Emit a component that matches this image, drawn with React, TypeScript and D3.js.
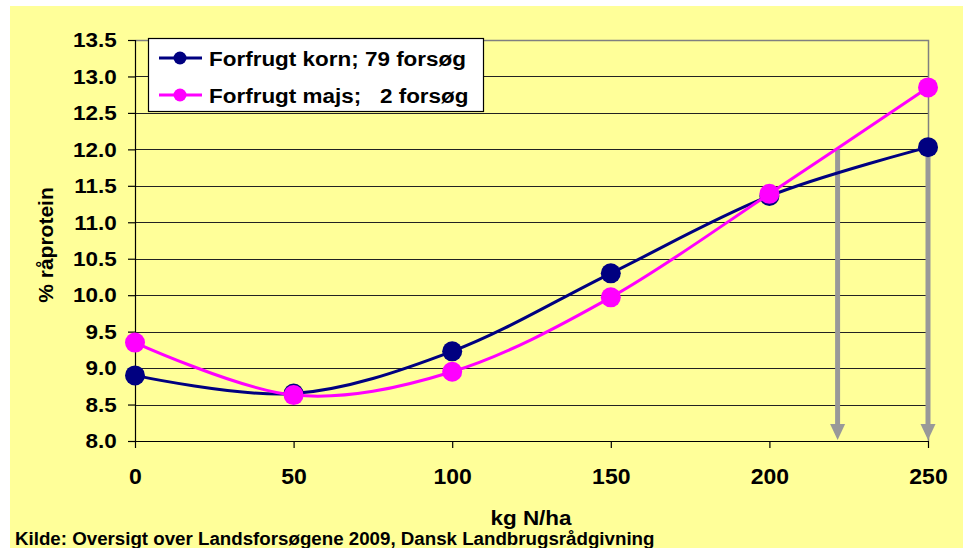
import { useEffect, useRef } from 'react';
import * as d3 from 'd3';

// x values (kg N/ha)
const nLevels = [0, 50, 100, 150, 200, 250];
// % raprotein per series
const kornValues = [8.9, 8.65, 9.23, 10.3, 11.36, 12.03];
const majsValues = [9.35, 8.63, 8.95, 9.97, 11.39, 12.85];

const seriesNames = ['Forfrugt korn; 79 forsøg', 'Forfrugt majs;   2 forsøg'];
const seriesColors = ['#000080', '#FF00FF'];

const yTicks = [8.0, 8.5, 9.0, 9.5, 10.0, 10.5, 11.0, 11.5, 12.0, 12.5, 13.0, 13.5];
const xTicks = [0, 50, 100, 150, 200, 250];

// grey arrows: x position, from value, to value
const arrowX = [221.5, 250];
const arrowFrom = 12.0;
const arrowTo = 8.0;

const App = () => {
    const svgRef = useRef<SVGSVGElement>(null);

    useEffect(() => {
        const W = 963;
        const H = 548;
        const plot = { left: 135, right: 928, top: 40, bottom: 441 };
        const font = 'Arial, "Liberation Sans", sans-serif';
        const stretch = 1.07; // the original text is a bit wide

        const svg = d3.select(svgRef.current);
        svg.selectAll('*').remove();
        svg.attr('width', W).attr('height', H);

        // draws bold text, stretched horizontally
        const label = (px: number, py: number, size: number, txt: string, anchor = 'start') =>
            svg.append('text')
                .attr('transform', `translate(${px},${py}) scale(${stretch},1)`)
                .attr('text-anchor', anchor)
                .style('font-family', font)
                .style('font-size', `${size}px`)
                .style('font-weight', 'bold')
                .style('white-space', 'pre')
                .attr('fill', '#000')
                .text(txt);

        // background
        svg.append('rect').attr('width', W).attr('height', H).attr('fill', '#ffffff');
        svg.append('rect')
            .attr('x', 10).attr('y', 6)
            .attr('width', W - 10).attr('height', H - 6)
            .attr('fill', '#FFFF99');

        const x = d3.scaleLinear().domain([0, 250]).range([plot.left, plot.right]);
        const y = d3.scaleLinear().domain([8, 13.5]).range([plot.bottom, plot.top]);

        // gridlines
        svg.append('g')
            .selectAll('line')
            .data(yTicks.filter(d => d > 8 && d < 13.5))
            .enter().append('line')
            .attr('x1', plot.left).attr('x2', plot.right)
            .attr('y1', d => Math.round(y(d)) + 0.5).attr('y2', d => Math.round(y(d)) + 0.5)
            .attr('stroke', '#222')
            .attr('stroke-width', 1.2);

        // top / right border of plot area
        svg.append('path')
            .attr('d', `M${plot.left},${plot.top + 0.5}H${plot.right + 0.5}V${plot.bottom}`)
            .attr('fill', 'none')
            .attr('stroke', '#808080')
            .attr('stroke-width', 1.5);

        // axes
        const yAxis = svg.append('g')
            .attr('transform', `translate(${plot.left},0)`)
            .call(d3.axisLeft(y).tickValues(yTicks).tickSize(7).tickFormat(d3.format('.1f')));
        yAxis.select('.domain').attr('stroke', '#000').attr('stroke-width', 1.2);
        yAxis.selectAll('.tick line').attr('stroke', '#000').attr('stroke-width', 1.2);
        yAxis.selectAll('.tick text')
            .attr('x', -17)
            .attr('transform', `scale(${stretch},1)`)
            .style('font-family', font)
            .style('font-size', '21px')
            .style('font-weight', 'bold')
            .attr('fill', '#000');

        const xAxis = svg.append('g')
            .attr('transform', `translate(0,${plot.bottom})`)
            .call(d3.axisBottom(x).tickValues(xTicks).tickSize(7).tickSizeOuter(0));
        xAxis.select('.domain').attr('stroke', '#000').attr('stroke-width', 1.2);
        xAxis.selectAll('.tick line').attr('stroke', '#000').attr('stroke-width', 1.2);
        xAxis.selectAll('.tick text')
            .attr('y', 28)
            .attr('dy', '0.71em')
            .attr('transform', `scale(${stretch},1)`)
            .style('font-family', font)
            .style('font-size', '21.5px')
            .style('font-weight', 'bold')
            .attr('fill', '#000');

        // arrows
        const arrows = svg.append('g');
        arrowX.forEach(a => {
            const ax = x(a);
            const y0 = y(arrowFrom);
            const y1 = y(arrowTo);
            arrows.append('line')
                .attr('x1', ax).attr('x2', ax)
                .attr('y1', y0).attr('y2', y1 - 14)
                .attr('stroke', '#999999')
                .attr('stroke-width', 5);
            arrows.append('path')
                .attr('d', `M${ax - 7.5},${y1 - 17}L${ax + 7.5},${y1 - 17}L${ax},${y1 - 1}Z`)
                .attr('fill', '#999999');
        });

        // series
        const line = d3.line<number>()
            .x((d, i) => x(nLevels[i]))
            .y(d => y(d))
            .curve(d3.curveCardinal.tension(0));

        [kornValues, majsValues].forEach((vals, si) => {
            const g = svg.append('g');
            g.append('path')
                .datum(vals)
                .attr('d', line)
                .attr('fill', 'none')
                .attr('stroke', seriesColors[si])
                .attr('stroke-width', 3);
            g.selectAll('circle')
                .data(vals)
                .enter().append('circle')
                .attr('cx', (d, i) => x(nLevels[i]))
                .attr('cy', d => y(d))
                .attr('r', 10)
                .attr('fill', seriesColors[si]);
        });

        // legend
        svg.append('rect')
            .attr('x', 148.5).attr('y', 38.5)
            .attr('width', 335).attr('height', 73)
            .attr('fill', '#ffffff')
            .attr('stroke', '#000')
            .attr('stroke-width', 1.2);
        seriesNames.forEach((name, i) => {
            const ly = 58 + i * 37;
            svg.append('line')
                .attr('x1', 159).attr('x2', 202)
                .attr('y1', ly).attr('y2', ly)
                .attr('stroke', seriesColors[i])
                .attr('stroke-width', 3);
            svg.append('circle')
                .attr('cx', 180).attr('cy', ly)
                .attr('r', 6.5)
                .attr('fill', seriesColors[i]);
            label(209, ly + 7.5, 21, name);
        });

        // axis titles
        svg.append('text')
            .attr('transform', 'translate(53,245) rotate(-90)')
            .attr('text-anchor', 'middle')
            .style('font-family', font)
            .style('font-size', '21px')
            .style('font-weight', 'bold')
            .attr('fill', '#000')
            .text('% råprotein');

        label(531, 525, 21, 'kg N/ha', 'middle');

        label(15, 545, 17.5, 'Kilde: Oversigt over Landsforsøgene 2009, Dansk Landbrugsrådgivning');
    }, []);

    return (
        <svg ref={svgRef} style={{ position: 'fixed', left: 0, top: 0, display: 'block' }}></svg>
    );
};

export default App;
